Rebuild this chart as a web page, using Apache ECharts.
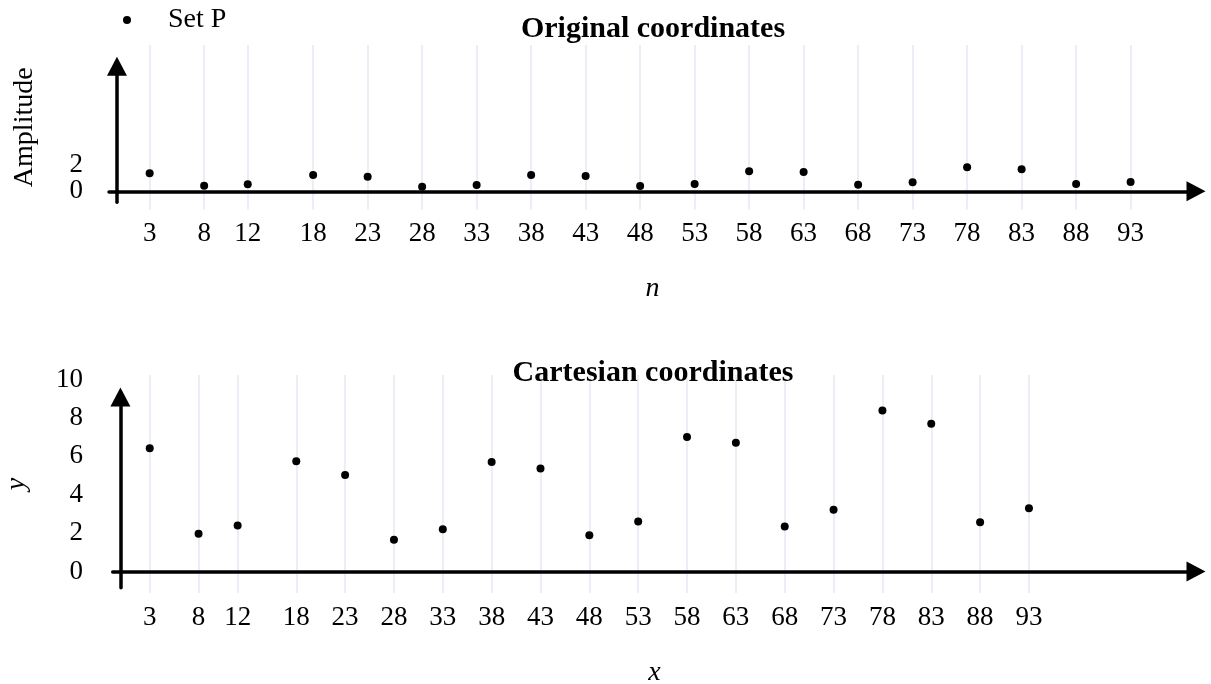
<!DOCTYPE html>
<html>
<head>
<meta charset="utf-8">
<script src="https://cdn.jsdelivr.net/npm/echarts@6/dist/echarts.min.js"></script>
<style>
  html, body { margin: 0; padding: 0; background: #fff; }
  #chart { width: 1211px; height: 684px; }
</style>
</head>
<body>
<div id="chart"></div>
<script>
// Sample positions shared by both panels
const sampleIndex = [3, 8, 12, 18, 23, 28, 33, 38, 43, 48, 53, 58, 63, 68, 73, 78, 83, 88, 93];
// Upper panel: amplitude at each sample
const amplitude = [1.38, 0.43, 0.54, 1.25, 1.12, 0.35, 0.48, 1.25, 1.18, 0.41, 0.56, 1.54, 1.48, 0.51, 0.69, 1.85, 1.69, 0.56, 0.72];
// Lower panel: y value at each sample
const yValues = [6.42, 1.97, 2.40, 5.74, 5.03, 1.66, 2.20, 5.70, 5.37, 1.89, 2.61, 7.00, 6.71, 2.35, 3.22, 8.38, 7.70, 2.56, 3.29];
// Tick labels on the vertical axes
const amplitudeTicks = [0, 2];
const yTicks = [0, 2, 4, 6, 8, 10];

const FONT = 'Liberation Serif';
const W = 1211, H = 684;

// Panel layout in pixels: plot frame (grid lines) and the arrowed axis span
const panels = [
  { left: 109, right: 1196, xMin: -0.73, xMax: 99,
    frameTop: 45, frameBottom: 209.5, axisTop: 66.3, axisBottom: 202.3,
    zeroPx: 191.3, pxPerUnit: 13 },
  { left: 112.7, right: 1196, xMin: -0.79, xMax: 110.1,
    frameTop: 375, frameBottom: 593, axisTop: 397, axisBottom: 587.7,
    zeroPx: 571.5, pxPerUnit: 19.2 }
];

function yRange(p, top, bottom) {
  return { min: -(bottom - p.zeroPx) / p.pxPerUnit, max: (p.zeroPx - top) / p.pxPerUnit };
}

const grids = [], xAxes = [], yAxes = [];
const labelStyle = { color: '#000', fontFamily: FONT, fontSize: 27, lineHeight: 20 };
const nameStyle = { color: '#000', fontFamily: FONT, fontSize: 28 };
const LABEL_RIGHT = 83; // right edge of the value labels
const axisNames = [
  { x: 'n', y: 'Amplitude', yItalic: false, ticks: amplitudeTicks, yNameGap: 70, xMargin: 14, xNameGap: 65 },
  { x: 'x', y: 'y', yItalic: true, ticks: yTicks, yNameGap: 82, xMargin: 15, xNameGap: 66 }
];

panels.forEach((p, i) => {
  const names = axisNames[i];
  // frame grid: grid lines, tick labels, axis names
  grids.push({ left: p.left, width: p.right - p.left, top: p.frameTop, height: p.frameBottom - p.frameTop, containLabel: false, outerBoundsMode: 'none' });
  // axis grid: arrowed axes through the origin, data points
  grids.push({ left: p.left, width: p.right - p.left, top: p.axisTop, height: p.axisBottom - p.axisTop, containLabel: false, outerBoundsMode: 'none' });
  const fr = yRange(p, p.frameTop, p.frameBottom);
  const ar = yRange(p, p.axisTop, p.axisBottom);
  // alternate value labels between the two vertical axes so close neighbours never get culled;
  // values above the arrowed axis stay on the frame axis
  const onArrow = (v, k) => k % 2 === 1 && v <= ar.max;
  const frameTicks = names.ticks.filter((v, k) => !onArrow(v, k));
  const arrowTicks = names.ticks.filter(onArrow);
  const yLabel = { margin: p.left - LABEL_RIGHT, showMinLabel: true, showMaxLabel: true, hideOverlap: false, ...labelStyle };
  xAxes.push({
    gridIndex: 2 * i, type: 'value', min: p.xMin, max: p.xMax,
    axisLine: { show: false, onZero: false },
    axisTick: { show: false, customValues: sampleIndex },
    splitLine: { show: true, lineStyle: { color: '#e4e7f5', width: 1.5 } },
    axisLabel: { customValues: sampleIndex, margin: names.xMargin, showMinLabel: true, showMaxLabel: true, hideOverlap: false, ...labelStyle },
    name: names.x, nameLocation: 'middle', nameGap: names.xNameGap,
    nameTextStyle: { ...nameStyle, fontStyle: 'italic' }
  });
  yAxes.push({
    gridIndex: 2 * i, type: 'value', min: fr.min, max: fr.max,
    axisLine: { show: false, onZero: false },
    axisTick: { show: false },
    splitLine: { show: false },
    axisLabel: { customValues: frameTicks, ...yLabel },
    name: names.y, nameLocation: 'middle', nameGap: names.yNameGap,
    nameTextStyle: { ...nameStyle, fontStyle: names.yItalic ? 'italic' : 'normal' }
  });
  const arrowLine = { show: true, onZero: true, symbol: ['none', 'triangle'], symbolSize: [20, 19],
                      lineStyle: { color: '#000', width: 3.5 } };
  xAxes.push({
    gridIndex: 2 * i + 1, type: 'value', min: p.xMin, max: p.xMax,
    axisLine: arrowLine, axisTick: { show: false }, axisLabel: { show: false }, splitLine: { show: false }
  });
  yAxes.push({
    gridIndex: 2 * i + 1, type: 'value', min: ar.min, max: ar.max,
    axisLine: arrowLine, axisTick: { show: false }, splitLine: { show: false },
    axisLabel: arrowTicks.length ? { customValues: arrowTicks, ...yLabel } : { show: false }
  });
});

const zip = (xs, ys) => xs.map((x, k) => [x, ys[k]]);

const chart = echarts.init(document.getElementById('chart'), null, { renderer: 'canvas', width: W, height: H });
chart.setOption({
  animation: false,
  backgroundColor: '#fff',
  title: [
    { text: 'Original coordinates', left: 653, top: 14, textAlign: 'center', padding: 0,
      textStyle: { color: '#000', fontFamily: FONT, fontSize: 30, fontWeight: 'bold' } },
    { text: 'Cartesian coordinates', left: 653, top: 358, textAlign: 'center', padding: 0,
      textStyle: { color: '#000', fontFamily: FONT, fontSize: 30, fontWeight: 'bold' } }
  ],
  legend: {
    data: ['Set P'], left: 123, top: 6, padding: 0,
    itemWidth: 8, itemHeight: 8, icon: 'circle',
    textStyle: { color: '#000', fontFamily: FONT, fontSize: 28, padding: [0, 0, 0, 32] }
  },
  grid: grids,
  xAxis: xAxes,
  yAxis: yAxes,
  series: [
    { name: 'Set P', type: 'scatter', xAxisIndex: 1, yAxisIndex: 1,
      data: zip(sampleIndex, amplitude), symbol: 'circle', symbolSize: 8,
      itemStyle: { color: '#000', opacity: 1 } },
    { name: 'Set P', type: 'scatter', xAxisIndex: 3, yAxisIndex: 3,
      data: zip(sampleIndex, yValues), symbol: 'circle', symbolSize: 8,
      itemStyle: { color: '#000', opacity: 1 } }
  ]
});
</script>
</body>
</html>
